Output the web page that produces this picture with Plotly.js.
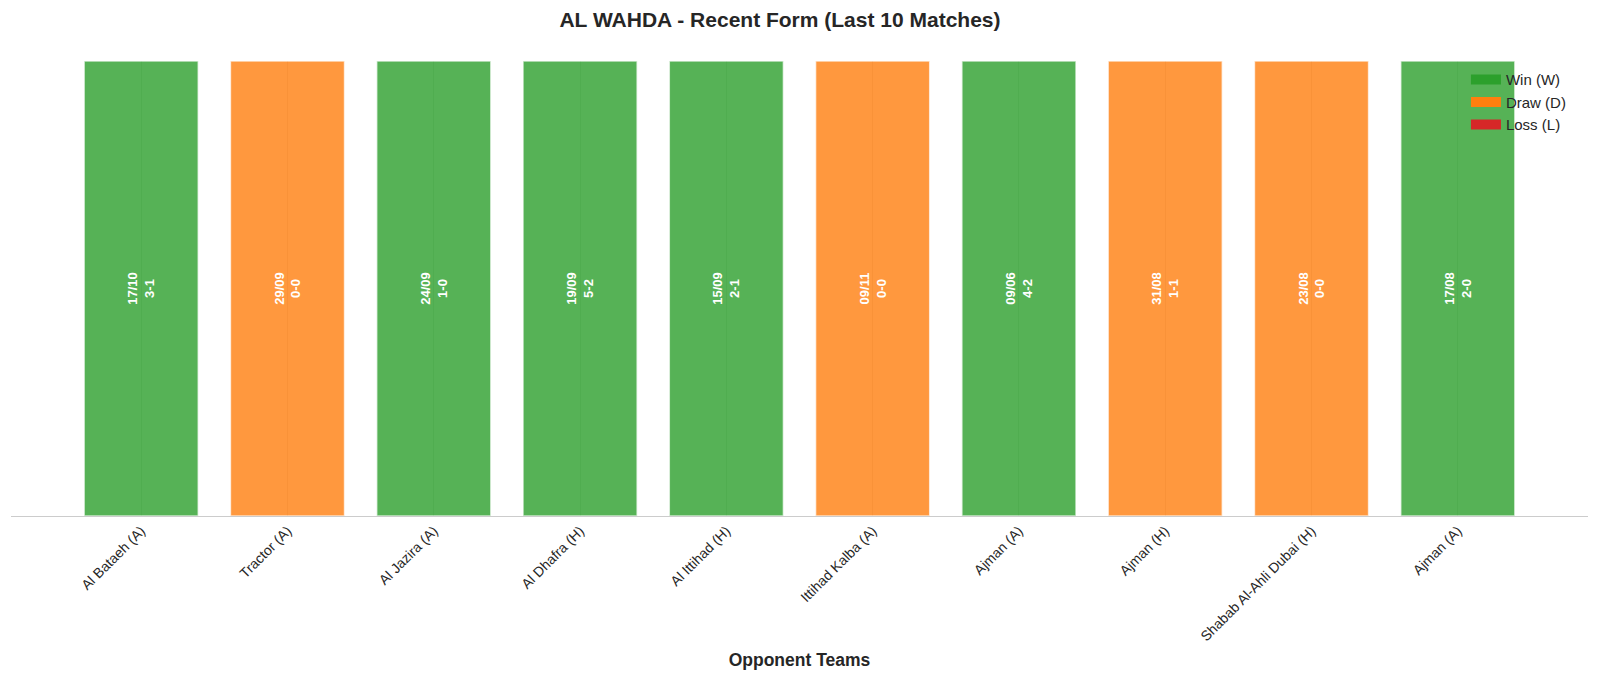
<!DOCTYPE html>
<html>
<head>
<meta charset="utf-8">
<script src="https://cdn.plot.ly/plotly-3.0.1.min.js"></script>
<style>
  html, body { margin: 0; padding: 0; width: 100%; height: 100%; overflow: hidden; background: #fff; }
  #plot { width: 100vw; height: 100vh; }
</style>
</head>
<body>
<div id="plot"></div>
<script>
// DATA =========================================================
const opponents = ['Al Bataeh (A)', 'Tractor (A)', 'Al Jazira (A)', 'Al Dhafra (H)', 'Al Ittihad (H)',
                   'Ittihad Kalba (A)', 'Ajman (A)', 'Ajman (H)', 'Shabab Al-Ahli Dubai (H)', 'Ajman (A)'];
const results = ['W', 'D', 'W', 'W', 'W', 'D', 'W', 'D', 'D', 'W'];
const dates = ['17/10', '29/09', '24/09', '19/09', '15/09', '09/11', '09/06', '31/08', '23/08', '17/08'];
const scores = ['3-1', '0-0', '1-0', '5-2', '2-1', '0-0', '4-2', '1-1', '0-0', '2-0'];
const barHeight = [1, 1, 1, 1, 1, 1, 1, 1, 1, 1];

const resultColors = { W: '#2ca02c', D: '#ff7f0e', L: '#d62728' };
const legendNames = { W: 'Win (W)', D: 'Draw (D)', L: 'Loss (L)' };

// PLOT =========================================================
var idx = opponents.map((_, i) => i);
var W = window.innerWidth, H = window.innerHeight;

var data = [{
    type: 'bar',
    x: idx,
    y: barHeight,
    width: 0.78,
    marker: {
        color: results.map(r => resultColors[r]),
        opacity: 0.8,
        line: { color: 'rgba(255,255,255,0.7)', width: 1.5 }
    },
    text: dates.map((d, i) => d + '<br>' + scores[i]),
    textposition: 'inside',
    insidetextanchor: 'middle',
    textangle: -90,
    constraintext: 'none',
    textfont: { family: 'Liberation Sans, Arial, sans-serif', size: 13, color: 'white', weight: 'bold' },
    hoverinfo: 'skip',
    showlegend: false
}];

// dummy traces just for the legend (thick lines give wide swatches)
['W', 'D', 'L'].forEach(function (r) {
    data.push({
        type: 'scatter',
        mode: 'lines',
        x: [null],
        y: [null],
        name: legendNames[r],
        line: { color: resultColors[r], width: 12 },
        showlegend: true
    });
});

var layout = {
    width: W,
    height: H,
    paper_bgcolor: 'white',
    plot_bgcolor: 'white',
    font: { family: 'Liberation Sans, Arial, sans-serif', color: '#262626' },
    title: {
        text: '<b>AL WAHDA - Recent Form (Last 10 Matches)</b>',
        x: 0.4875,
        xanchor: 'center',
        y: 0.982,
        yanchor: 'top',
        font: { size: 21, color: '#262626' }
    },
    barmode: 'overlay',
    bargap: 0,
    margin: { t: 61, b: 163, l: 11, r: 12 },
    xaxis: {
        range: [-0.89, 9.89],
        tickmode: 'array',
        tickvals: idx,
        ticktext: opponents,
        tickangle: -45,
        tickfont: { size: 14, color: '#262626' },
        showgrid: true,
        gridcolor: '#e3e3e3',
        gridwidth: 1,
        showline: true,
        linecolor: '#cccccc',
        linewidth: 1.2,
        ticks: '',
        zeroline: false,
        title: {
            text: '<b>Opponent Teams</b>',
            font: { size: 17.5, color: '#262626' },
            standoff: 10
        }
    },
    yaxis: {
        range: [0, 1],
        visible: false,
        showgrid: false,
        zeroline: false
    },
    legend: {
        x: 0.9226,
        y: 0.995,
        xanchor: 'left',
        yanchor: 'top',
        bgcolor: 'rgba(255,255,255,0)',
        font: { size: 15, color: '#262626' },
        tracegroupgap: 0
    }
};

Plotly.newPlot('plot', data, layout, { displayModeBar: false, staticPlot: true });
</script>
</body>
</html>
